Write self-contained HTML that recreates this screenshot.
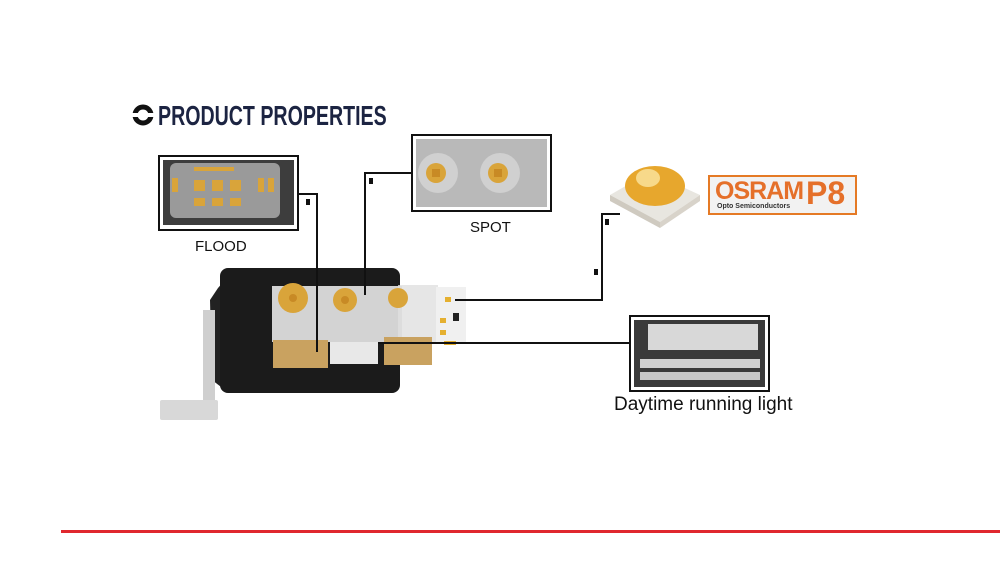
<!DOCTYPE html>
<html><head><meta charset="utf-8"><style>
body{margin:0;width:1000px;height:570px;background:#fff;position:relative;overflow:hidden;font-family:"Liberation Sans",sans-serif}
.a{position:absolute}
</style></head><body>
<svg class="a" style="left:0;top:0" width="1000" height="570" viewBox="0 0 1000 570">
<circle cx="143" cy="115" r="8" fill="none" stroke="#111" stroke-width="5"/>
<rect x="132" y="113" width="22" height="4" fill="#fff"/>
<rect x="61" y="530" width="939" height="3" fill="#e0282e"/>

<rect x="159" y="156" width="139" height="74" fill="#fff" stroke="#111" stroke-width="2"/>
<rect x="163" y="160" width="131" height="65" fill="#3d3d3d"/>
<rect x="170" y="163" width="110" height="55" rx="6" fill="#9a9a9a"/>
<g fill="#d9a43a">
<rect x="194" y="180" width="11" height="11"/><rect x="212" y="180" width="11" height="11"/><rect x="230" y="180" width="11" height="11"/>
<rect x="194" y="198" width="11" height="8"/><rect x="212" y="198" width="11" height="8"/><rect x="230" y="198" width="11" height="8"/>
<rect x="172" y="178" width="6" height="14"/><rect x="258" y="178" width="6" height="14"/><rect x="268" y="178" width="6" height="14"/>
<rect x="194" y="167" width="40" height="4"/></g>

<rect x="412" y="135" width="139" height="76" fill="#fff" stroke="#111" stroke-width="2"/>
<rect x="416" y="139" width="131" height="68" fill="#b9b9b9"/>
<circle cx="438" cy="173" r="20" fill="#d0d0d0"/><circle cx="500" cy="173" r="20" fill="#d0d0d0"/>
<circle cx="436" cy="173" r="10" fill="#d9a43a"/><circle cx="498" cy="173" r="10" fill="#d9a43a"/>
<rect x="432" y="169" width="8" height="8" fill="#c88a25"/><rect x="494" y="169" width="8" height="8" fill="#c88a25"/>

<rect x="630" y="316" width="139" height="75" fill="#fff" stroke="#111" stroke-width="2"/>
<rect x="634" y="320" width="131" height="67" fill="#3a3a3a"/>
<rect x="648" y="324" width="110" height="26" fill="#d8d8d8"/>
<rect x="640" y="359" width="120" height="9" fill="#d0d0d0"/>
<rect x="640" y="372" width="120" height="8" fill="#c8c8c8"/>

<rect x="709" y="176" width="147" height="38" fill="#f2f2f2" stroke="#e57a25" stroke-width="2"/>

<polygon points="610,195 650,172 700,195 660,222" fill="#e8e6e0"/>
<polygon points="610,195 660,222 660,228 610,201" fill="#cfcac0"/>
<polygon points="660,222 700,195 700,201 660,228" fill="#d8d3ca"/>
<ellipse cx="655" cy="186" rx="30" ry="20" fill="#e7a72d"/>
<ellipse cx="648" cy="178" rx="12" ry="9" fill="#f7d98a"/>

<polygon points="210,300 218,288 225,280 225,390 212,380" fill="#222"/>
<rect x="203" y="310" width="12" height="100" fill="#cfcfcf"/>
<rect x="160" y="400" width="58" height="20" rx="2" fill="#d8d8d8"/>
<rect x="220" y="268" width="180" height="125" rx="8" fill="#1b1b1b"/>
<rect x="272" y="286" width="130" height="56" fill="#d3d3d3"/>
<rect x="398" y="285" width="40" height="58" fill="#e0e0e0" opacity=".8"/>
<rect x="436" y="287" width="30" height="57" fill="#f0f0f0"/>
<circle cx="293" cy="298" r="15" fill="#d9a43a"/><circle cx="345" cy="300" r="12" fill="#d9a43a"/><circle cx="398" cy="298" r="10" fill="#d9a43a"/>
<circle cx="293" cy="298" r="4" fill="#c88a25"/><circle cx="345" cy="300" r="4" fill="#c88a25"/>
<rect x="273" y="340" width="55" height="28" fill="#c9a260"/>
<rect x="330" y="342" width="48" height="22" fill="#e8e8e8"/>
<rect x="384" y="337" width="48" height="28" fill="#c9a260"/>
<g fill="#e5b030"><rect x="445" y="297" width="6" height="5"/><rect x="440" y="318" width="6" height="5"/><rect x="440" y="330" width="6" height="5"/><rect x="444" y="341" width="12" height="4"/></g>
<rect x="453" y="313" width="6" height="8" fill="#222"/>

<g fill="none" stroke="#111" stroke-width="2">
<polyline points="298,194 317,194 317,352"/>
<polyline points="412,173 365,173 365,295"/>
<polyline points="620,214 602,214 602,300 455,300"/>
<polyline points="630,343 378,343"/>
</g>
<g fill="#111">
<rect x="306" y="199" width="4" height="6"/><rect x="369" y="178" width="4" height="6"/>
<rect x="605" y="219" width="4" height="6"/><rect x="594" y="269" width="4" height="6"/>
</g>
</svg>

<div class="a" style="left:158px;top:100px;font-size:28px;font-weight:bold;color:#1c2442;transform:scaleX(.7);transform-origin:left;white-space:nowrap">PRODUCT PROPERTIES</div>
<div class="a" style="left:195px;top:238px;font-size:15px;color:#111">FLOOD</div>
<div class="a" style="left:470px;top:219px;font-size:15px;color:#111">SPOT</div>
<div class="a" style="left:614px;top:394px;font-size:19px;color:#111;white-space:nowrap">Daytime running light</div>
<div class="a" style="left:715px;top:177px;font-size:25px;font-weight:bold;color:#e5702a;letter-spacing:-1px">OSRAM</div>
<div class="a" style="left:806px;top:175px;font-size:32px;font-weight:bold;color:#e5702a">P8</div>
<div class="a" style="left:717px;top:203px;font-size:7px;font-weight:bold;color:#333">Opto Semiconductors</div>
</body></html>
